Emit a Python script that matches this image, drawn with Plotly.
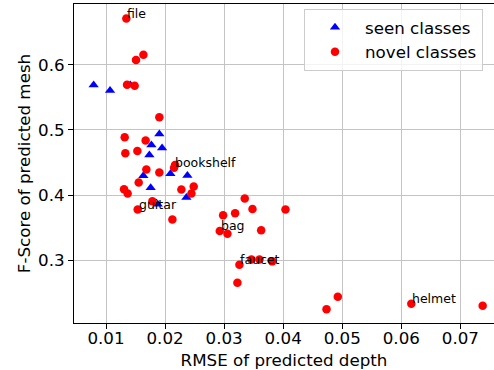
import plotly.graph_objects as go

# Seen classes (blue triangles)
seen_rmse = [0.0079, 0.01068, 0.01412, 0.01903, 0.01768, 0.01949, 0.01734,
             0.0209, 0.02378, 0.01632, 0.01756, 0.02361, 0.01875]
seen_fscore = [0.5688, 0.5605, 0.5690, 0.4938, 0.4769, 0.4723, 0.4615,
               0.4328, 0.4303, 0.4297, 0.4112, 0.3965, 0.3862]

# Novel classes (red circles)
novel_rmse = [0.01344, 0.01633, 0.01508, 0.01356, 0.01485, 0.01903, 0.01316,
              0.01671, 0.01531, 0.01327, 0.01683, 0.01903, 0.02169, 0.02152,
              0.01553, 0.01305, 0.01366, 0.02276, 0.02485, 0.02446, 0.01785,
              0.01536, 0.02124, 0.03349, 0.03186, 0.03480, 0.04039, 0.02983,
              0.02926, 0.03056, 0.03627, 0.03259, 0.03463, 0.03598, 0.03814,
              0.03225, 0.04734, 0.04925, 0.06170, 0.07378]
novel_fscore = [0.6708, 0.6154, 0.6072, 0.5692, 0.5677, 0.5195, 0.4888,
                0.4838, 0.4677, 0.4641, 0.4395, 0.4349, 0.4462, 0.4420,
                0.4195, 0.4092, 0.4026, 0.4088, 0.4134, 0.4026, 0.3908,
                0.3780, 0.3626, 0.3949, 0.3723, 0.3789, 0.3780, 0.3692,
                0.3450, 0.3410, 0.3462, 0.2934, 0.3015, 0.3015, 0.2985,
                0.2657, 0.2251, 0.2442, 0.2334, 0.2303]

# Labelled classes
label_names = ["file", "bookshelf", "guitar", "bag", "faucet", "helmet"]
label_rmse = [0.01344, 0.02152, 0.01536, 0.02926, 0.03259, 0.06170]
label_fscore = [0.6708, 0.4420, 0.3780, 0.3450, 0.2934, 0.2334]

x_ticks = [0.01, 0.02, 0.03, 0.04, 0.05, 0.06, 0.07]
y_ticks = [0.3, 0.4, 0.5, 0.6]

FONT = "DejaVu Sans"

fig = go.Figure()
fig.add_trace(go.Scatter(
    x=seen_rmse, y=seen_fscore, mode="markers", name="seen classes",
    marker=dict(symbol="triangle-up", color="#0000ff", size=9, line=dict(width=0)),
))
fig.add_trace(go.Scatter(
    x=novel_rmse, y=novel_fscore, mode="markers", name="novel classes",
    marker=dict(symbol="circle", color="#ff0000", size=8.5, line=dict(width=0)),
))

for name, xv, yv in zip(label_names, label_rmse, label_fscore):
    fig.add_annotation(
        x=xv, y=yv, text=name, showarrow=False, xanchor="left", yanchor="bottom",
        xshift=-1, yshift=-4, font=dict(family=FONT, size=12.5, color="black"),
    )

axis_common = dict(
    showgrid=True, gridcolor="#c4c4c4", gridwidth=1,
    showline=True, linecolor="black", linewidth=1,
    tickfont=dict(family=FONT, size=16.7, color="black"),
    zeroline=False, automargin=False,
)

fig.update_xaxes(
    range=[0.004576, 0.0757], tickvals=x_ticks,
    ticktext=[f"{v:.2f}" for v in x_ticks], mirror=True,
    ticks="",
    minor=dict(tickvals=x_ticks, ticks="outside", ticklen=5, tickwidth=1,
               tickcolor="black", showgrid=False),
    title=dict(text="RMSE of predicted depth", font=dict(family=FONT, size=16.7, color="black"), standoff=13),
    **axis_common,
)
fig.update_yaxes(
    range=[0.204, 0.6931], tickvals=y_ticks,
    ticktext=[f"{v:.1f}" for v in y_ticks],
    ticks="outside", ticklen=5, tickwidth=1, tickcolor="black",
    title=dict(text="F-Score of predicted mesh", font=dict(family=FONT, size=16.7, color="black"), standoff=3),
    **axis_common,
)

fig.update_layout(
    width=494, height=370,
    margin=dict(l=74, r=0, t=4, b=47, autoexpand=False),
    paper_bgcolor="white", plot_bgcolor="white",
    showlegend=True,
    legend=dict(
        x=(304 - 74) / 420, y=0.985, xanchor="left", yanchor="top",
        bgcolor="rgba(255,255,255,0.8)", bordercolor="#cccccc", borderwidth=1,
        font=dict(family=FONT, size=16.7, color="black"),
        itemwidth=50,
    ),
    font=dict(family=FONT),
)

fig.write_html(
    "out.html",
    config={"displayModeBar": False},
    post_script="document.body.style.margin='0';document.body.style.padding='0';",
)
